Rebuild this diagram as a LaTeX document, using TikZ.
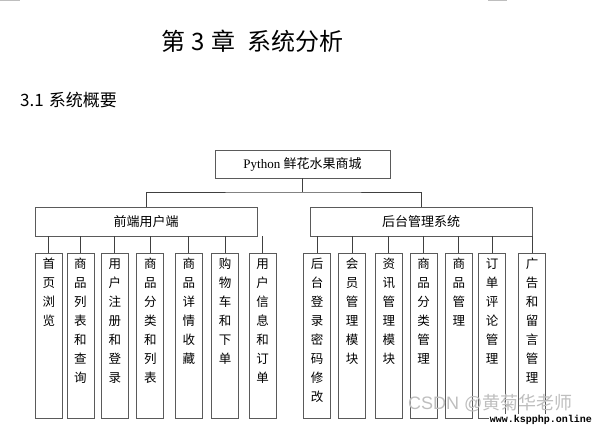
\documentclass[tikz,border=0pt]{standalone}
\usepackage{fontspec}
\setmainfont{Liberation Serif}
\setsansfont{Liberation Sans}
\setmonofont{Liberation Mono}
\newfontfamily\cjk{Noto Sans CJK SC}
\usetikzlibrary{positioning}
\definecolor{lndark}{HTML}{404040}
\definecolor{bxgray}{HTML}{5A5A5A}
\definecolor{wmgray}{HTML}{BEBEBE}
\newcommand{\vlabel}[1]{\parbox[t][155pt][t]{27pt}{\centering #1}}

\begin{document}
\begin{tikzpicture}[
  x=1pt, y=-1pt,
  title/.style={font=\cjk\fontsize{24}{26}\selectfont, inner sep=0pt},
  section/.style={font=\cjk\fontsize{17}{19}\selectfont, inner sep=0pt},
  topbox/.style={
    rectangle, draw=bxgray, line width=0.8pt,
    minimum width=175pt, minimum height=28pt,
    font=\fontsize{13}{15}\selectfont
  },
  group/.style={
    rectangle, draw=bxgray, line width=0.8pt,
    minimum width=222pt, minimum height=29pt,
    font=\cjk\fontsize{13}{15}\selectfont
  },
  leaf/.style={
    rectangle, draw=bxgray, line width=0.8pt,
    inner xsep=0pt, inner ysep=5pt, minimum width=27pt,
    font=\cjk\fontsize{12.5}{19}\selectfont
  },
  link/.style={draw=lndark, line width=0.9pt},
  wmark/.style={text=wmgray, inner sep=0pt, font=\fontsize{18}{20}\selectfont},
]
  \useasboundingbox (0,0) rectangle (593,426);

  % page corner marks
  \draw[wmgray, line width=0.8pt] (0,0.5) -- (20,0.5);
  \draw[wmgray, line width=0.8pt] (488,0.5) -- (507,0.5);

  % Headings
  \node[title] (chap) at (252.5,41) {第\hspace{6pt}3\hspace{6pt}章\hspace{12pt}系统分析};
  \node[section, anchor=west] (sec) at (20,100) {3.1\hspace{5pt}系统概要};

  % Root and groups
  \node[topbox] (root) at (302.5,164) {Python {\cjk 鲜花水果商城}};
  \node[group] (front) at (146,221.5) {前端用户端};
  \node[group] (back) at (421,221.5) {后台管理系统};
  \coordinate (split) at (302.5,192);

  % Front-end modules
  \node[leaf, anchor=north west] (f1) at (35,253) {\vlabel{首\\页\\浏\\览}};
  \node[leaf, right=3.7pt of f1] (f2) {\vlabel{商\\品\\列\\表\\和\\查\\询}};
  \node[leaf, right=6.6pt of f2] (f3) {\vlabel{用\\户\\注\\册\\和\\登\\录}};
  \node[leaf, right=7.7pt of f3] (f4) {\vlabel{商\\品\\分\\类\\和\\列\\表}};
  \node[leaf, right=10.7pt of f4] (f5) {\vlabel{商\\品\\详\\情\\收\\藏}};
  \node[leaf, right=8.6pt of f5] (f6) {\vlabel{购\\物\\车\\和\\下\\单}};
  \node[leaf, right=9.7pt of f6] (f7) {\vlabel{用\\户\\信\\息\\和\\订\\单}};

  % Back-end modules
  \node[leaf, anchor=north west] (b1) at (303.3,253) {\vlabel{后\\台\\登\\录\\密\\码\\修\\改}};
  \node[leaf, right=7pt of b1] (b2) {\vlabel{会\\员\\管\\理\\模\\块}};
  \node[leaf, right=9pt of b2] (b3) {\vlabel{资\\讯\\管\\理\\模\\块}};
  \node[leaf, right=7pt of b3] (b4) {\vlabel{商\\品\\分\\类\\管\\理}};
  \node[leaf, right=7.4pt of b4] (b5) {\vlabel{商\\品\\管\\理}};
  \node[leaf, right=5.6pt of b5] (b6) {\vlabel{订\\单\\评\\论\\管\\理}};
  \node[leaf, right=12pt of b6] (b7) {\vlabel{广\\告\\和\\留\\言\\管\\理}};

  % Connectors
  \draw[link] (root.south) -- (split);
  \draw[link] (front.north) |- (split) -| (back.north);
  \foreach \m in {f1,f2,f3,f4,f5,f6,f7}
    \draw[link] (\m.north) -- (\m.north |- front.south);
  \foreach \m in {b1,b2,b3,b4,b5,b6,b7}
    \draw[link] (\m.north) -- (\m.north |- back.south);

  % Watermarks
  \node[wmark, anchor=west] (csdn) at (408,403) {{\sffamily CSDN @}{\cjk 黄菊华老师}};
  \node[anchor=east, fill=white, inner sep=1pt,
    font=\ttfamily\bfseries\fontsize{10}{11}\selectfont] (site) at (593,420) {www.kspphp.online};
\end{tikzpicture}
\end{document}
